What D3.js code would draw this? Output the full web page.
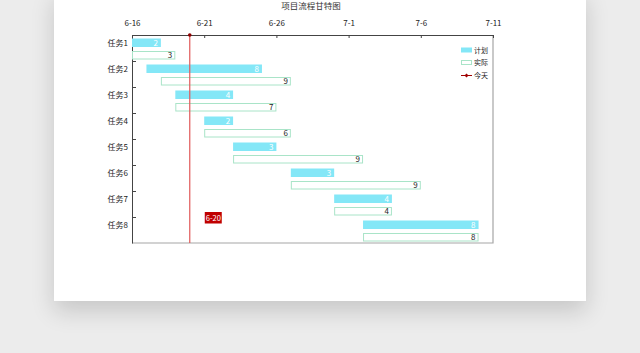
<!DOCTYPE html>
<html>
<head>
<meta charset="utf-8">
<script src="https://cdn.jsdelivr.net/npm/d3@7"></script>
<style>
  html, body { margin: 0; padding: 0; background: #ececec; width: 640px; height: 353px; overflow: hidden; }
  #card { position: absolute; left: 54px; top: -10px; width: 532px; height: 311px; background: #fff;
          box-shadow: 0 10px 22px rgba(0,0,0,0.16); }
  svg { position: absolute; left: 0; top: 0; }
  text { font-family: "Noto Sans CJK SC", "Noto Sans", sans-serif; }
</style>
</head>
<body>
<div id="card"></div>
<svg id="chart" width="640" height="353"></svg>
<script>
// chart data
const tasks       = ['任务1', '任务2', '任务3', '任务4', '任务5', '任务6', '任务7', '任务8'];
const planStart   = ['6-16', '6-17', '6-19', '6-21', '6-23', '6-27', '6-30', '7-2'];
const planDays    = [2, 8, 4, 2, 3, 3, 4, 8];
const actualStart = ['6-16', '6-18', '6-19', '6-21', '6-23', '6-27', '6-30', '7-2'];
const actualDays  = [3, 9, 7, 6, 9, 9, 4, 8];
const tickLabels  = ['6-16', '6-21', '6-26', '7-1', '7-6', '7-11'];
const today       = '6-20';
const title       = '项目流程甘特图';
const legendNames = ['计划', '实际', '今天'];

// "6-16" -> Date
const parseDay = s => { const [m, d] = s.split('-').map(Number); return new Date(2023, m - 1, d); };
const addDays  = (dt, n) => d3.timeDay.offset(dt, n);
const fmt      = d3.timeFormat('%-m-%-d');

const plotL = 132, plotR = 493, plotT = 35, plotB = 243;

const x = d3.scaleTime()
  .domain([parseDay(tickLabels[0]), parseDay(tickLabels[tickLabels.length - 1])])
  .range([plotL, plotR]);
const y = d3.scaleBand().domain(tasks).range([plotT, plotB]);

const svg = d3.select('#chart');

// title, sitting right at the top edge of the card
svg.append('text')
  .attr('x', 311).attr('y', 8.5)
  .attr('text-anchor', 'middle')
  .attr('font-size', 8.5).attr('fill', '#333')
  .text(title);

// frame: right and bottom in light grey
svg.append('path')
  .attr('d', `M${plotR},${plotT}V${plotB}H${plotL}`)
  .attr('fill', 'none').attr('stroke', '#a6a6a6').attr('stroke-width', 1.2);

// top date axis, ticks inward
const xAxis = svg.append('g')
  .attr('transform', `translate(0,${plotT})`)
  .call(d3.axisTop(x)
    .tickValues(tickLabels.map(parseDay))
    .tickFormat(fmt)
    .tickSizeInner(-3).tickSizeOuter(0).tickPadding(9));
xAxis.select('.domain').attr('stroke', '#444');
xAxis.selectAll('line').attr('stroke', '#444');
xAxis.selectAll('text').attr('font-size', 8).attr('fill', '#222')
  .attr('font-family', '"Noto Sans CJK SC", sans-serif');

// left category axis, boundary ticks inward
const yAxis = svg.append('g')
  .attr('transform', `translate(${plotL},0)`)
  .call(d3.axisLeft(y).tickSize(0).tickPadding(4));
yAxis.select('.domain').attr('stroke', '#444');
yAxis.selectAll('text').attr('font-size', 8).attr('fill', '#222')
  .attr('dy', null).attr('y', -y.bandwidth() / 2 + 11)
  .attr('font-family', '"Noto Sans CJK SC", sans-serif');
yAxis.selectAll('.bnd').data(tasks.slice(1)).join('line')
  .attr('x1', 0).attr('x2', 4)
  .attr('y1', d => Math.round(y(d)) + 0.5).attr('y2', d => Math.round(y(d)) + 0.5)
  .attr('stroke', '#444');

const barH = 8.5;

const plan = tasks.map((t, i) => ({ t, s: parseDay(planStart[i]), n: planDays[i] }));
const act  = tasks.map((t, i) => ({ t, s: parseDay(actualStart[i]), n: actualDays[i] }));

// planned bars
svg.selectAll('.plan').data(plan).join('rect')
  .attr('x', d => x(d.s))
  .attr('y', d => y(d.t) + 3.5)
  .attr('width', d => x(addDays(d.s, d.n)) - x(d.s))
  .attr('height', barH)
  .attr('fill', '#84e7f7');
svg.selectAll('.planlbl').data(plan).join('text')
  .attr('x', d => x(addDays(d.s, d.n)) - 3)
  .attr('y', d => y(d.t) + 3.5 + barH / 2 + 3)
  .attr('text-anchor', 'end').attr('font-size', 8).attr('fill', '#fff')
  .text(d => d.n);

// actual bars
svg.selectAll('.act').data(act).join('rect')
  .attr('x', d => x(d.s) + 0.5)
  .attr('y', d => y(d.t) + 16.5)
  .attr('width', d => x(addDays(d.s, d.n)) - x(d.s) - 1)
  .attr('height', barH - 1)
  .attr('fill', '#fff').attr('stroke', '#a9e4c8').attr('stroke-width', 1);
svg.selectAll('.actlbl').data(act).join('text')
  .attr('x', d => x(addDays(d.s, d.n)) - 3)
  .attr('y', d => y(d.t) + 16 + barH / 2 + 3)
  .attr('text-anchor', 'end').attr('font-size', 8).attr('fill', '#222')
  .text(d => d.n);

// today line
const tx = x(parseDay(today));
svg.append('line')
  .attr('x1', tx).attr('x2', tx).attr('y1', plotT).attr('y2', plotB)
  .attr('stroke', '#e05a5a').attr('stroke-width', 1.2);
svg.append('circle').attr('cx', tx).attr('cy', plotT).attr('r', 1.8).attr('fill', '#8b0000');

// today label
const lbl = svg.append('g').attr('transform', `translate(${tx + 15},${y(tasks[7]) - 5})`);
lbl.append('rect').attr('x', 0).attr('y', 0).attr('width', 17).attr('height', 11.5).attr('fill', '#c00000');
lbl.append('text').attr('x', 8.5).attr('y', 8.6).attr('text-anchor', 'middle')
  .attr('font-size', 7.5).attr('fill', '#fff').text(fmt(parseDay(today)));

// legend
const lg = svg.append('g').attr('transform', 'translate(461,50)');
lg.append('rect').attr('x', 0).attr('y', -2.5).attr('width', 11).attr('height', 5).attr('fill', '#84e7f7');
lg.append('rect').attr('x', 0.5).attr('y', 10.5).attr('width', 10).attr('height', 4).attr('fill', '#fff')
  .attr('stroke', '#a9e4c8');
lg.append('line').attr('x1', 0).attr('x2', 11).attr('y1', 25.5).attr('y2', 25.5).attr('stroke', '#a00000');
lg.append('path').attr('d', 'M5.5,23.5L7.5,25.5L5.5,27.5L3.5,25.5Z').attr('fill', '#a00000');
lg.selectAll('.lt').data(legendNames).join('text')
  .attr('x', 13).attr('y', (d, i) => i * 12.8 + 2.5)
  .attr('font-size', 7).attr('fill', '#222')
  .text(d => d);
</script>
</body>
</html>
